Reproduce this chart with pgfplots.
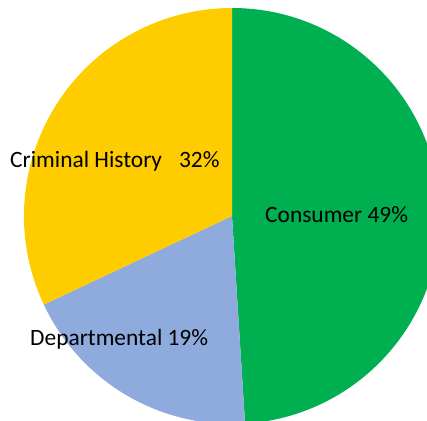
\documentclass[border=0pt]{standalone}
\usepackage{fontspec}
\setmainfont{Carlito}
\usepackage{pgfplots}
\usepackage{pgfplotstable}
\pgfplotsset{compat=1.18}

\definecolor{consumer}{HTML}{00B050}
\definecolor{departmental}{HTML}{8FAADC}
\definecolor{criminal}{HTML}{FFCC00}

% share of each slice, clockwise from 12 o'clock
\pgfplotstableread{
name value
Consumer 49
Departmental 19
Criminal 32
}\pietable

\begin{document}
\begin{tikzpicture}
\pgfplotstablegetelem{0}{value}\of\pietable \let\va\pgfplotsretval
\pgfplotstablegetelem{1}{value}\of\pietable \let\vb\pgfplotsretval
\pgfplotstablegetelem{2}{value}\of\pietable \let\vc\pgfplotsretval
\pgfmathsetmacro{\aA}{90-3.6*\va}
\pgfmathsetmacro{\aB}{\aA-3.6*\vb}
\pgfmathsetmacro{\aC}{\aB-3.6*\vc}
\begin{axis}[
    scale only axis,
    width=427bp, height=421bp,
    xmin=0, xmax=427, ymin=0, ymax=421,
    hide axis,
    clip=true,
]
\path (axis cs:0,0) rectangle (axis cs:427,421);
\begin{scope}
\clip (axis cs:0,0) rectangle (axis cs:427,421);
\fill[consumer] (axis cs:232,205) -- ++(90:208bp) arc[start angle=90, end angle=\aA, radius=208bp] -- cycle;
\fill[departmental] (axis cs:232,205) -- ++(\aA:208bp) arc[start angle=\aA, end angle=\aB, radius=208bp] -- cycle;
\fill[criminal] (axis cs:232,205) -- ++(\aB:208bp) arc[start angle=\aB, end angle=\aC, radius=208bp] -- cycle;
\end{scope}
\node[anchor=base west, inner sep=0pt, font=\fontsize{23.5}{26}\selectfont] at (axis cs:10,253) {Criminal History\hspace{0.5em} 32\%};
\node[anchor=base west, inner sep=0pt, font=\fontsize{23.5}{26}\selectfont] at (axis cs:265,198) {Consumer 49\%};
\node[anchor=base west, inner sep=0pt, font=\fontsize{23.5}{26}\selectfont] at (axis cs:30,75) {Departmental 19\%};
\end{axis}
\end{tikzpicture}
\end{document}
